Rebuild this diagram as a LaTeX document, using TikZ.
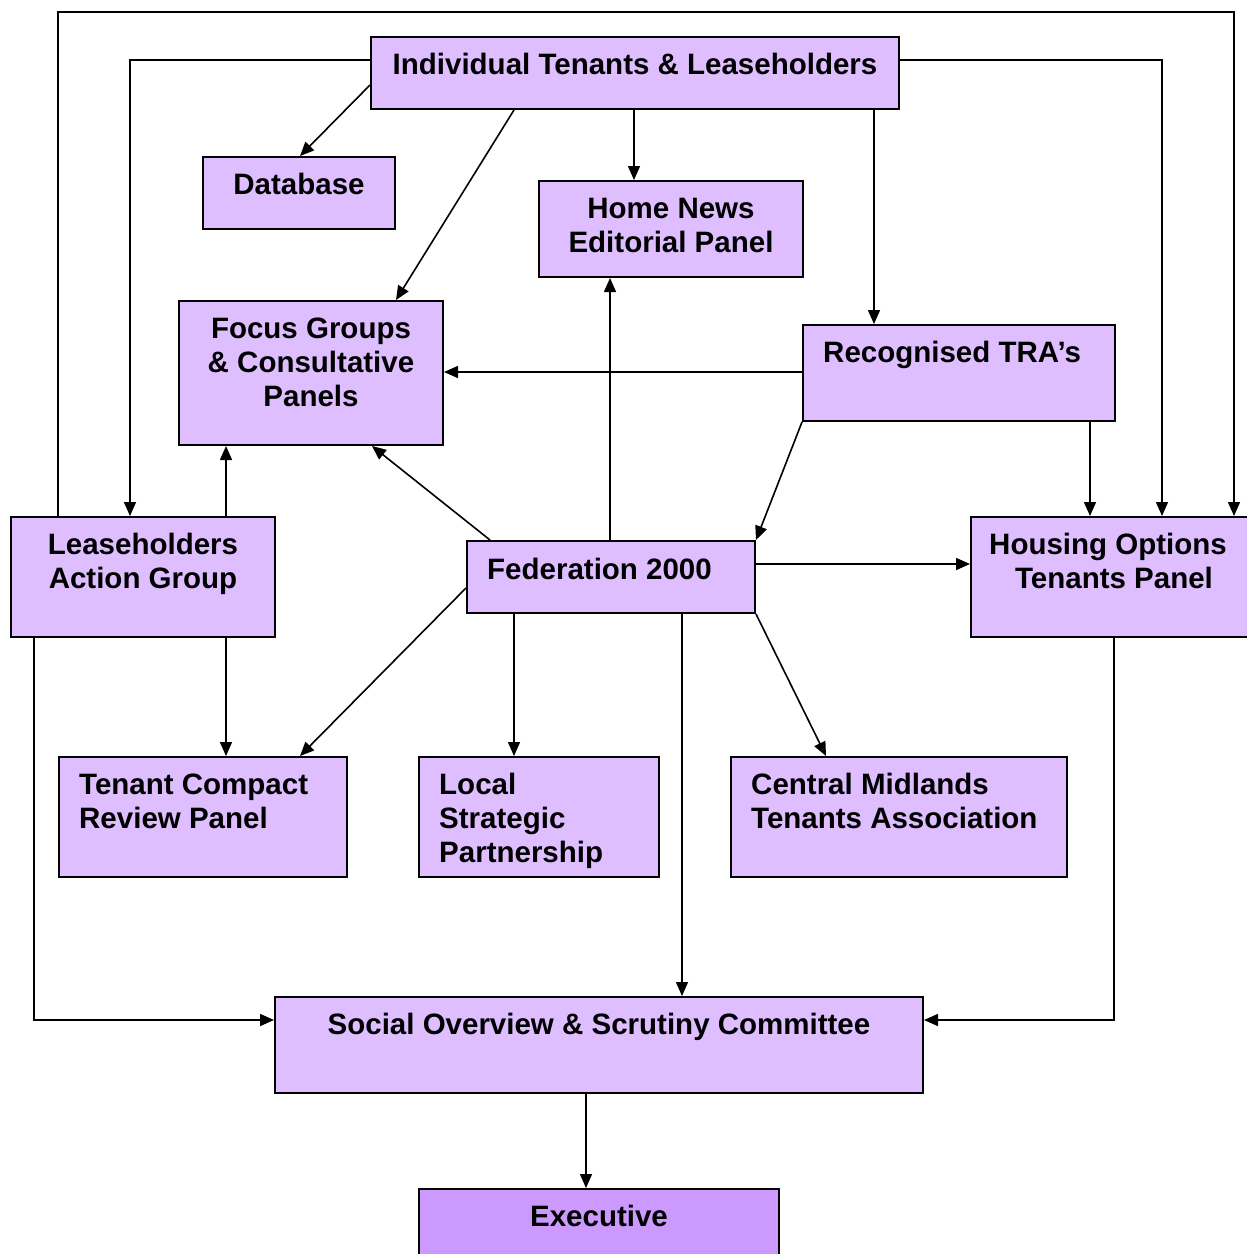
\documentclass[tikz,border=0pt]{standalone}
\usepackage{fontspec}
\setmainfont{Liberation Sans}
\usetikzlibrary{arrows.meta,calc}
\definecolor{boxc}{RGB}{222,190,255}
\definecolor{exec}{RGB}{204,153,255}
\begin{document}
\begin{tikzpicture}[x=1pt,y=-1pt,
  box/.style={draw=black,line width=2pt,fill=boxc,inner sep=0pt,anchor=north west},
  txt/.style={font=\fontsize{29.5}{34}\selectfont\bfseries,inner sep=0pt,align=center,anchor=north},
  ltxt/.style={font=\fontsize{29.5}{34}\selectfont\bfseries,inner sep=0pt,align=left,anchor=north west},
  arr/.style={draw=black,line width=1.6pt,-{Triangle[length=14pt,width=12pt]}}]
\useasboundingbox (0,0) rectangle (1247,1254);
\fill[white] (0,0) rectangle (1247,1254);
% boxes
\node[box,minimum width=528pt,minimum height=72pt] (itl) at (370,36) {};
\node[box,minimum width=192pt,minimum height=72pt] (db) at (202,156) {};
\node[box,minimum width=264pt,minimum height=96pt] (hn) at (538,180) {};
\node[box,minimum width=264pt,minimum height=144pt] (fg) at (178,300) {};
\node[box,minimum width=312pt,minimum height=96pt] (tra) at (802,324) {};
\node[box,minimum width=264pt,minimum height=120pt] (lag) at (10,516) {};
\node[box,minimum width=288pt,minimum height=72pt] (fed) at (466,540) {};
\node[box,minimum width=282pt,minimum height=120pt] (hot) at (970,516) {};
\node[box,minimum width=288pt,minimum height=120pt] (tcr) at (58,756) {};
\node[box,minimum width=240pt,minimum height=120pt] (lsp) at (418,756) {};
\node[box,minimum width=336pt,minimum height=120pt] (cmt) at (730,756) {};
\node[box,minimum width=648pt,minimum height=96pt] (sos) at (274,996) {};
\node[box,fill=exec,minimum width=360pt,minimum height=74pt] (exe) at (418,1188) {};
% texts
\node[txt] (itl-t) at ($(itl.north)+(0,14.7)$) {\strut Individual Tenants \& Leaseholders};
\node[txt] (db-t) at ($(db.north)+(0,14.7)$) {\strut Database};
\node[txt] (hn-t) at ($(hn.north)+(0,14.7)$) {\strut Home News\\Editorial Panel};
\node[txt] (fg-t) at ($(fg.north)+(0,14.7)$) {\strut Focus Groups\\\& Consultative\\Panels};
\node[ltxt] (tra-t) at ($(tra.north west)+(21,14.7)$) {\strut Recognised TRA’s};
\node[txt] (lag-t) at ($(lag.north)+(0,14.7)$) {\strut Leaseholders\\Action Group};
\node[ltxt] (fed-t) at ($(fed.north west)+(21,15.2)$) {\strut Federation 2000};
\node[txt] (hot-t) at (1108,530.7) {\strut Housing Options\\\hspace*{12pt}Tenants Panel};
\node[ltxt] (tcr-t) at ($(tcr.north west)+(21,14.7)$) {\strut Tenant Compact\\Review Panel};
\node[ltxt] (lsp-t) at ($(lsp.north west)+(21,14.7)$) {\strut Local\\Strategic\\Partnership};
\node[ltxt] (cmt-t) at ($(cmt.north west)+(21,14.7)$) {\strut Central Midlands\\Tenants Association};
\node[txt] (sos-t) at ($(sos.north)+(0,14.7)$) {\strut Social Overview \& Scrutiny Committee};
\node[txt] (exe-t) at ($(exe.north)+(0,14.7)$) {\strut Executive};
% connectors
\draw[arr] (lag.north -| 58,0) -- (58,12) -- (1234,12) -- (hot.north -| 1234,0);
\draw[arr] (itl.west |- 0,60) -- (130,60) -- (lag.north -| 130,0);
\draw[arr] (itl.east |- 0,60) -- (1162,60) -- (hot.north -| 1162,0);
\draw[arr] (itl.west |- 0,85) -- (db.north -| 300,0);
\draw[arr] (itl.south -| 514,0) -- (fg.north -| 396,0);
\draw[arr] (itl.south -| 634,0) -- (hn.north -| 634,0);
\draw[arr] (itl.south -| 874,0) -- (tra.north -| 874,0);
\draw[arr] (tra.west |- 0,372) -- (fg.east |- 0,372);
\draw[arr] (tra.south west) -- (fed.north east);
\draw[arr] (tra.south -| 1090,0) -- (hot.north -| 1090,0);
\draw[arr] (fed.north -| 610,0) -- (hn.south -| 610,0);
\draw[arr] (fed.north -| 490,0) -- (fg.south -| 372,0);
\draw[arr] (lag.north -| 226,0) -- (fg.south -| 226,0);
\draw[arr] (fed.east |- 0,564) -- (hot.west |- 0,564);
\draw[arr] (fed.west |- 0,588) -- (tcr.north -| 300,0);
\draw[arr] (fed.south -| 514,0) -- (lsp.north -| 514,0);
\draw[arr] (fed.south -| 682,0) -- (sos.north -| 682,0);
\draw[arr] (fed.south east) -- (cmt.north -| 826,0);
\draw[arr] (lag.south -| 226,0) -- (tcr.north -| 226,0);
\draw[arr] (lag.south -| 34,0) -- (34,1020) -- (sos.west |- 0,1020);
\draw[arr] (hot.south -| 1114,0) -- (1114,1020) -- (sos.east |- 0,1020);
\draw[arr] (sos.south -| 586,0) -- (exe.north -| 586,0);
\end{tikzpicture}
\end{document}
